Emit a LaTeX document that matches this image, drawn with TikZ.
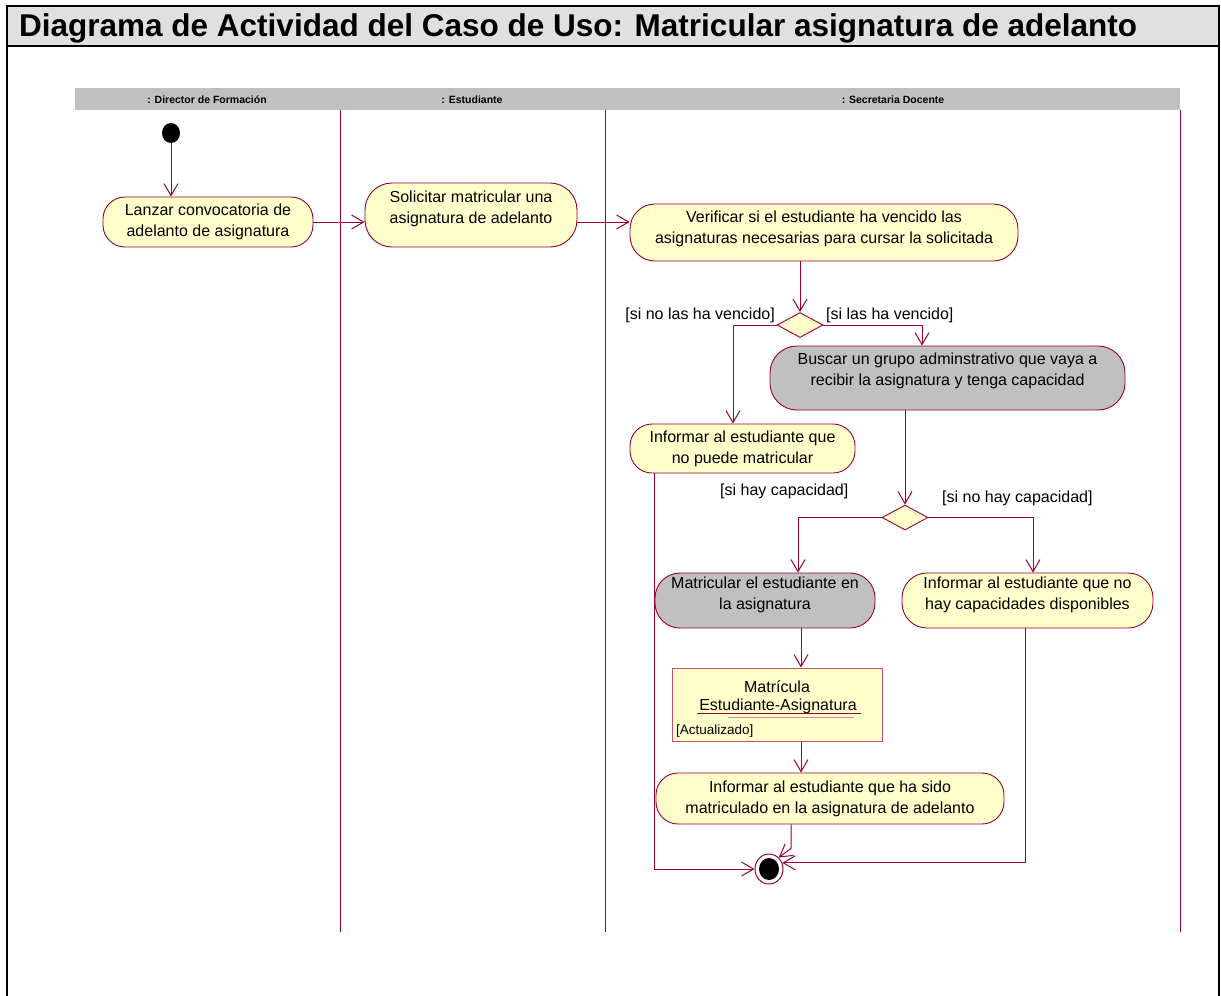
\documentclass[tikz,border=0pt]{standalone}
\usepackage{fontspec}
\setmainfont{Liberation Sans}
\usepackage{tikz}
\usetikzlibrary{shapes.geometric,arrows.meta}

\definecolor{rojouml}{HTML}{990033}
\definecolor{amarillo}{HTML}{FFFFCC}
\definecolor{grisact}{HTML}{C0C0C0}
\definecolor{gristitulo}{HTML}{E0E0E0}
\definecolor{rosaobj}{HTML}{C8506A}
\definecolor{rosaclaro}{HTML}{D88898}

\tikzset{
  actividad/.style={draw=rojouml, fill=amarillo, line width=0.9pt, rounded corners=22pt, align=center, inner sep=0pt, font=\fontsize{16}{21}\selectfont},
  actgris/.style={actividad, fill=grisact},
  decision/.style={diamond, draw=rojouml, fill=amarillo, line width=0.9pt, minimum width=46pt, minimum height=25pt, inner sep=0pt},
  flecha/.style={rojouml, line width=1pt, -{Straight Barb[length=12pt,width=14pt]}},
  guarda/.style={font=\fontsize{16}{21}\selectfont, inner sep=0pt},
  carril/.style={rojouml, line width=1pt},
  cabecera/.style={font=\bfseries\fontsize{10.5}{12}\selectfont, inner sep=0pt, anchor=base},
  objeto/.style={draw=rosaobj, fill=amarillo, line width=1pt, inner sep=0pt},
}

\begin{document}
\begin{tikzpicture}[x=1pt,y=-1pt]
    \useasboundingbox (0,0) rectangle (1221,996);
    \fill[gristitulo] (7,6) rectangle (1219,46);
    \draw[line width=2.5pt] (7,996) -- (7,6) -- (1219,6) -- (1219,996);
    \draw[line width=2.5pt] (7,46) -- (1219,46);
    \node[font=\bfseries\fontsize{31.5}{36}\selectfont, anchor=base west, inner sep=0pt] (titulo) at (19,36) {Diagrama de Actividad del Caso de Uso: Matricular asignatura de adelanto};

    \fill[grisact] (75,88) rectangle (1180,110);
    \node[cabecera] (director) at (207,103) {: Director de Formación};
    \node[cabecera] (estudiante) at (472,103) {: Estudiante};
    \node[cabecera] (secretaria) at (893,103) {: Secretaria Docente};
    \draw[carril] (340,110) -- (340,932);
    \draw[carril] (605,110) -- (605,932);
    \draw[carril] (1180,110) -- (1180,932);

    \node[ellipse, fill=black, minimum width=18pt, minimum height=20pt, inner sep=0pt] (inicio) at (171,133) {};
    \node[actividad, minimum width=210pt, minimum height=50pt] (lanzar) at (208,222) {Lanzar convocatoria de\\adelanto de asignatura};
    \node[actividad, rounded corners=27pt, minimum width=212pt, minimum height=64pt] (solicitar) at (471,215) {Solicitar matricular una\\asignatura de adelanto\\[-5pt]\mbox{}};
    \node[actividad, rounded corners=25pt, minimum width=388pt, minimum height=57pt] (verificar) at (824,232.5) {Verificar si el estudiante ha vencido las\\asignaturas necesarias para cursar la solicitada\\[-10pt]\mbox{}};
    \node[decision] (rombo1) at (800,325) {};
    \node[actgris, rounded corners=27pt, minimum width=355pt, minimum height=64pt] (buscar) at (947.5,378) {Buscar un grupo adminstrativo que vaya a\\recibir la asignatura y tenga capacidad\\[-3pt]\mbox{}};
    \node[actividad, minimum width=225pt, minimum height=49pt] (informar1) at (742.5,448.5) {Informar al estudiante que\\no puede matricular};
    \node[decision] (rombo2) at (905,517.5) {};
    \node[actgris, rounded corners=25pt, minimum width=220pt, minimum height=55pt] (matricular) at (765,600.5) {Matricular el estudiante en\\la asignatura\\[-6pt]\mbox{}};
    \node[actividad, rounded corners=25pt, minimum width=251pt, minimum height=55pt] (informar2) at (1027.5,600.5) {Informar al estudiante que no\\hay capacidades disponibles\\[-6pt]\mbox{}};
    \node[objeto, minimum width=210pt, minimum height=73pt] (matricula) at (777,704.5) {};
    \node[guarda, anchor=base] (matNombre) at (777,692) {Matrícula};
    \node[guarda, anchor=base] (matClase) at (778,710) {Estudiante-Asignatura};
    \node[font=\fontsize{13.5}{16}\selectfont, anchor=base west, inner sep=0pt] (matEstado) at (676,734) {[Actualizado]};
    \draw[rojouml, line width=1pt] ([xshift=-2pt,yshift=-3pt]matClase.base west) -- ([xshift=4pt,yshift=-3pt]matClase.base east);
    \draw[rosaclaro, line width=1pt] ([xshift=29pt,yshift=-7pt]matClase.base west) -- ([xshift=-3pt,yshift=-7pt]matClase.base east);
    \node[actividad, minimum width=348pt, minimum height=51pt] (informar3) at (830,798.5) {Informar al estudiante que ha sido\\matriculado en la asignatura de adelanto};
    \node[ellipse, draw=rojouml, fill=white, line width=1pt, minimum width=28pt, minimum height=30pt, inner sep=0pt] (fin) at (769,869) {};
    \node[ellipse, fill=black, minimum width=20pt, minimum height=22pt, inner sep=0pt] (finIn) at (fin) {};

    \node[guarda, anchor=base east] (noVencido) at (775,319) {[si no las ha vencido]};
    \node[guarda, anchor=base west] (vencido) at (826,319) {[si las ha vencido]};
    \node[guarda, anchor=base west] (hayCap) at (720,495) {[si hay capacidad]};
    \node[guarda, anchor=base west] (noHayCap) at (942,502) {[si no hay capacidad]};

    \draw[flecha] (inicio) -- (inicio |- lanzar.north);
    \draw[flecha] (lanzar.east) -- (lanzar.east -| solicitar.west);
    \draw[flecha] (solicitar.east |- lanzar.east) -- (lanzar.east -| verificar.west);
    \draw[flecha] (verificar.south -| rombo1) -- (rombo1.north);
    \draw[flecha] (rombo1.west) -| ([xshift=-9.5pt]informar1.north);
    \draw[flecha] (rombo1.east) -| ([xshift=-25.5pt]buscar.north);
    \draw[flecha] (buscar.south -| rombo2) -- (rombo2.north);
    \draw[flecha] (rombo2.west) -| ([xshift=33pt]matricular.north);
    \draw[flecha] (rombo2.east) -| ([xshift=5.5pt]informar2.north);
    \draw[flecha] ([xshift=36pt]matricular.south) -- ([xshift=24pt]matricula.north);
    \draw[flecha] ([xshift=24pt]matricula.south) -- ([xshift=-29pt]informar3.north);
    \draw[flecha] ([xshift=-39pt]informar3.south) -- ++(0,24) -- (fin.50);
    \draw[flecha] ([xshift=-88pt]informar1.south) |- (fin.west);
    \draw[flecha] ([xshift=-2.5pt]informar2.south) |- (fin.25);
\end{tikzpicture}
\end{document}
